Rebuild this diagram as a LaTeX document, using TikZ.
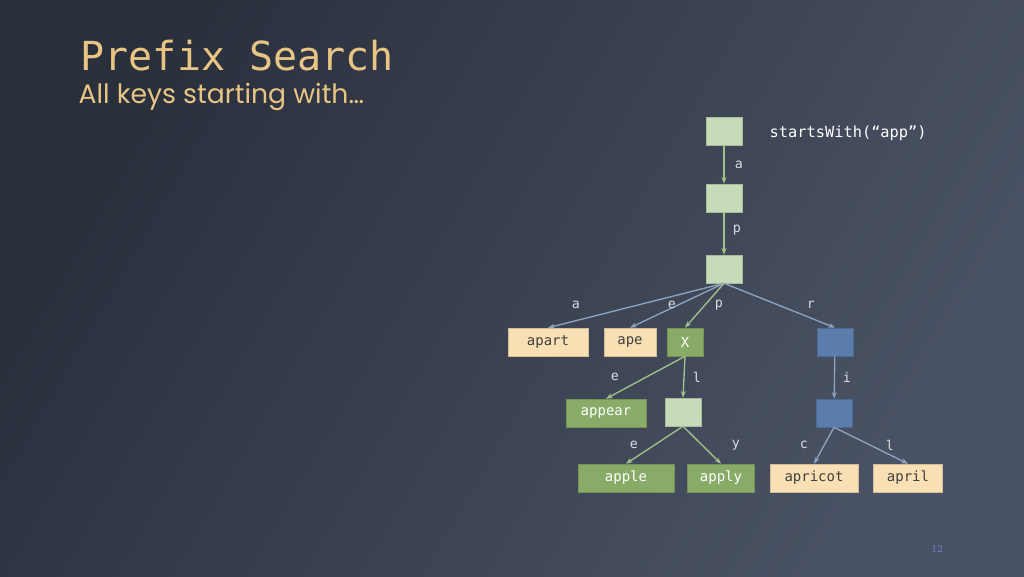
\documentclass[tikz,border=0pt]{standalone}
\usepackage{fontspec}
\setmonofont{DejaVu Sans Mono}
\newfontfamily\popp{Poppins}
\usetikzlibrary{arrows.meta}
\definecolor{bgA}{HTML}{2A2F3C}
\definecolor{bgB}{HTML}{4A5365}
\definecolor{lg}{HTML}{C8DBB8}
\definecolor{dg}{HTML}{88AC68}
\definecolor{cr}{HTML}{F8E0B4}
\definecolor{bl}{HTML}{5A7DAC}
\definecolor{eg}{HTML}{A5C18B}
\definecolor{eb}{HTML}{8FA2BE}
\definecolor{gold}{HTML}{E8C585}
\definecolor{lab}{HTML}{D8DCE2}
\begin{document}
\begin{tikzpicture}[x=0.75pt,y=-0.75pt,
 box/.style={minimum height=21pt,inner sep=0pt,font=\ttfamily\fontsize{10.5}{12}\selectfont},
 lgb/.style={box,fill=lg,draw=lg!85!black,minimum width=27pt},
 dgb/.style={box,fill=dg,draw=dg!85!black,text=white},
 crb/.style={box,fill=cr,draw=cr!85!black,text=black!75},
 blb/.style={box,fill=bl,draw=bl!85!black,minimum width=27pt},
 ge/.style={eg,line width=1pt,-{Stealth[length=5pt]}},
 be/.style={eb,line width=1pt,-{Stealth[length=5pt]}},
 lb/.style={text=lab,font=\ttfamily\fontsize{10}{12}\selectfont}]
\shade[left color=bgA,right color=bgB,shading angle=60] (0,0) rectangle (1024,576);
\useasboundingbox (0,0) rectangle (1024,576);
\node[anchor=west,text=gold,font=\ttfamily\fontsize{30}{34}\selectfont] (t) at (76,56) {Prefix Search};
\node[anchor=west,text=gold,font=\popp\fontsize{20}{24}\selectfont] (st) at (74,97) {All keys starting with\dots};
\node[anchor=west,text=white,font=\ttfamily\fontsize{11.5}{14}\selectfont] (sw) at (765,133) {startsWith(“app”)};
\node[lgb] (r) at (724,131) {};
\node[lgb] (n2) at (724,198) {};
\node[lgb] (n3) at (724,269) {};
\node[crb,minimum width=60pt] (apart) at (548,342) {apart};
\node[crb,minimum width=39pt] (ape) at (630,342) {ape};
\node[dgb,minimum width=27pt] (x) at (685,342) {X};
\node[blb] (b1) at (835,342) {};
\node[dgb,minimum width=60pt] (appear) at (606,413) {appear};
\node[lgb] (n4) at (683,412) {};
\node[blb] (b2) at (834,413) {};
\node[dgb,minimum width=72pt] (apple) at (626,478) {apple};
\node[dgb,minimum width=50pt] (apply) at (721,478) {apply};
\node[crb,minimum width=66pt] (apricot) at (814,478) {apricot};
\node[crb,minimum width=52pt] (april) at (908,478) {april};
\draw[ge] (r) -- (n2);
\draw[ge] (n2) -- (n3);
\draw[be] (n3.south) -- (apart.north);
\draw[be] (n3.south) -- (ape.north);
\draw[ge] (n3.south) -- (x.north);
\draw[be] (n3.south) -- (b1.north);
\draw[ge] (x.south) -- (appear.north);
\draw[ge] (x.south) -- (n4.north);
\draw[be] (b1) -- (b2);
\draw[ge] (n4.south) -- (apple.north);
\draw[ge] (n4.south) -- (apply.north);
\draw[be] (b2.south) -- (apricot.north);
\draw[be] (b2.south) -- (april.north);
\node[lb] (l1) at (739,165) {a};
\node[lb] (l2) at (737,230) {p};
\node[lb] (l3) at (576,305) {a};
\node[lb] (l4) at (672,305) {e};
\node[lb] (l5) at (719,305) {p};
\node[lb] (l6) at (811,305) {r};
\node[lb] (l7) at (615,377) {e};
\node[lb] (l8) at (697,377) {l};
\node[lb] (l9) at (847,377) {i};
\node[lb] (l10) at (634,445) {e};
\node[lb] (l11) at (736,445) {y};
\node[lb] (l12) at (804,445) {c};
\node[lb] (l13) at (890,445) {l};
\node[text=eb!80!blue,font=\fontsize{8}{10}\selectfont] (pg) at (937,549) {12};
\end{tikzpicture}
\end{document}
